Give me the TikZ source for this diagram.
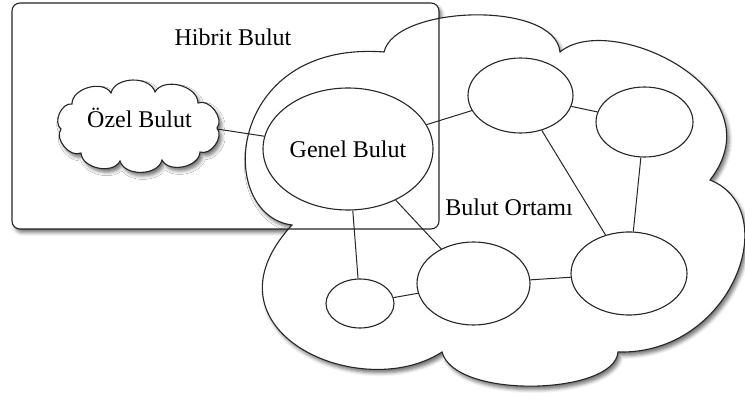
\documentclass[tikz,border=0pt]{standalone}
\usepackage{fontspec}
\setmainfont{Liberation Serif}
\usetikzlibrary{shapes.geometric,shadows.blur}
\begin{document}
\begin{tikzpicture}[x=1pt,y=-1pt,
  ln/.style={line width=1.1pt, draw=black!85},
  ell/.style={ellipse, ln, fill=white, inner sep=0pt},
  txt/.style={font=\fontsize{24}{28}\selectfont, inner sep=0pt},
  lbl/.style={txt, anchor=base},
  shd/.style={blur shadow={shadow xshift=2.5pt, shadow yshift=-3.5pt, shadow blur radius=3.5pt, shadow opacity=55}},
  puff/.style={bend left=75},
  link/.style={line width=1pt, draw=black!85}]
\useasboundingbox (0,0) rectangle (745,401);
% hybrid frame (background + shadow)
\path[fill=white, shd, rounded corners=8pt] (12,3) rectangle (439,229);
% cloud environment
\path[ln, fill=white, shd] (292,225) .. controls (215,215) and (225,40) .. (384,52)
  .. controls (395,5) and (555,0) .. (560,52)
  .. controls (610,10) and (780,90) .. (710,180)
  .. controls (785,210) and (732,355) .. (618,352)
  .. controls (615,395) and (455,400) .. (442,352)
  .. controls (360,405) and (195,330) .. (292,225) -- cycle;
% frame border on top
\draw[ln, rounded corners=8pt] (12,3) rectangle (439,229);
% private cloud
\path[ln, fill=white, shd] (72,104) to[puff] (111,93) to[puff] (155,92) to[puff] (198,103)
  to[puff] (217,128) to[puff] (200,152) to[puff] (162,160) to[puff] (120,161)
  to[puff] (81,153) to[puff] (61,129) to[puff] (72,104) -- cycle;
\coordinate (ozelR) at (217,129);
\node[lbl] (ozeltxt) at (139.5,128) {Özel Bulut};
% nodes
\node[ell, txt, minimum width=170pt, minimum height=122pt] (genel) at (348,149) {Genel Bulut};
\node[ell, minimum width=105pt, minimum height=75pt] (e1) at (520.5,95.5) {};
\node[ell, minimum width=97pt, minimum height=70pt] (e2) at (644.5,122) {};
\node[ell, minimum width=116pt, minimum height=83pt] (e3) at (629,273.5) {};
\node[ell, minimum width=113pt, minimum height=83pt] (e4) at (473.5,283.5) {};
\node[ell, minimum width=68pt, minimum height=49pt] (e5) at (360,303.5) {};
% labels
\node[lbl] (hibrit) at (233,46) {Hibrit Bulut};
\node[lbl] (ortam) at (509,215) {Bulut Ortamı};
% connectors
\draw[link] (ozelR) -- (genel);
\draw[link] (genel) -- (e1);
\draw[link] (e1) -- (e2);
\draw[link] (e1) -- (e3);
\draw[link] (e2) -- (e3);
\draw[link] (genel) -- (e5);
\draw[link] (genel) -- (e4);
\draw[link] (e5) -- (e4);
\draw[link] (e4) -- (e3);
\end{tikzpicture}
\end{document}
